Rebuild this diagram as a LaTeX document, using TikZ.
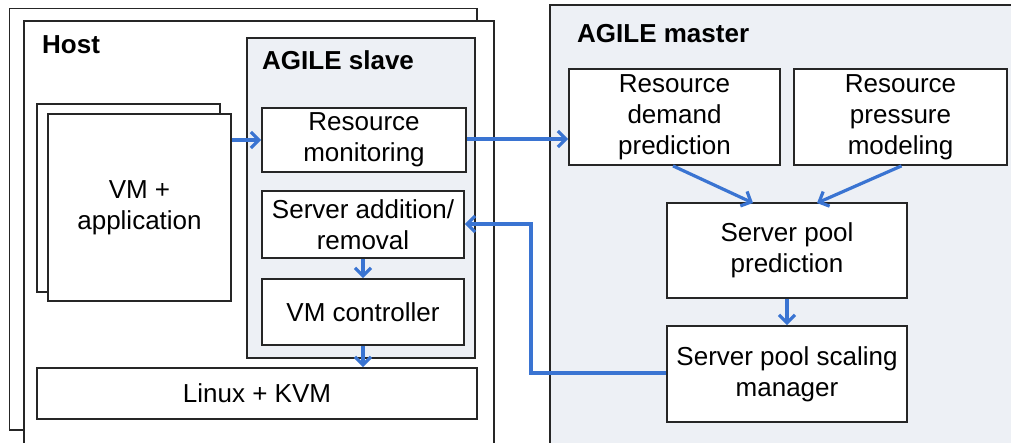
\documentclass[tikz,border=0pt]{standalone}
\usepackage{fontspec}
\setmainfont{Liberation Sans}
\usetikzlibrary{arrows.meta}
\definecolor{flow}{RGB}{58,116,210}
\definecolor{panel}{RGB}{237,240,245}
\tikzset{
  frame/.style={draw=black!85, line width=1.8pt},
  stage/.style={frame, fill=white, align=center, inner sep=0pt,
    font=\fontsize{26}{31}\selectfont},
  heading/.style={anchor=west, inner sep=0pt, font=\fontsize{26}{31}\selectfont\bfseries},
  flowline/.style={draw=flow, line width=3.2pt,
    -{Straight Barb[length=8pt,width=16pt]}},
}
\begin{document}
\begin{tikzpicture}[x=1pt,y=-1pt]
\useasboundingbox (0,0) rectangle (1011,442);
\begin{scope}
\clip (0,0) rectangle (1011,442);
% stacked host frames
\draw[frame, fill=white] (9.5,8.5) rectangle (477,430);
\draw[frame, fill=white] (24,21) rectangle (494,450);
\node[heading] (host) at (42,45) {Host};
% slave panel
\draw[frame, fill=panel] (247,38) rectangle (475,358);
\node[heading] (slave) at (262,60) {AGILE slave};
% master panel
\draw[frame, fill=panel] (550,5) rectangle (1020,450);
\node[heading] (master) at (577,34) {AGILE master};
% stacked VMs
\draw[frame, fill=white] (37,104) rectangle (220,292);
\node[stage, minimum width=183pt, minimum height=187pt] (vm) at (139.5,207.5) {VM +\\application};
% slave stages
\node[stage, minimum width=204pt, minimum height=64pt] (mon) at (364,140) {Resource\\monitoring};
\node[stage, minimum width=202pt, minimum height=67pt] (add) at (363,224.5) {Server addition/\\removal};
\node[stage, minimum width=202pt, minimum height=66pt] (ctl) at (363,312) {VM controller};
\node[stage, minimum width=440pt, minimum height=51pt] (kvm) at (257,393.5) {Linux + KVM};
% master stages
\node[stage, minimum width=211pt, minimum height=96pt] (rdp) at (674.5,117) {Resource\\demand\\prediction};
\node[stage, minimum width=213pt, minimum height=96pt] (rpm) at (900.5,117) {Resource\\pressure\\modeling};
\node[stage, minimum width=240pt, minimum height=95pt] (spp) at (787,250.5) {Server pool\\prediction};
\node[stage, minimum width=240pt, minimum height=96pt] (spm) at (787,374) {Server pool scaling\\manager};
% connectors
\coordinate (bend1) at (531,373);
\coordinate (bend2) at (531,224);
\draw[flowline] (vm.east |- 0,140) -- (mon.west);
\draw[flowline] (mon.east |- 0,139) -- (rdp.west |- 0,139);
\draw[flowline] (rdp.south) ++(-1.5,0) -- (753,203);
\draw[flowline] (rpm.south) ++(1,0) -- (817,203);
\draw[flowline] (spp.south) -- (spm.north);
\draw[flowline] (spm.west |- bend1) -- (bend1) -- (bend2) -- (add.east |- bend2);
\draw[flowline] (add.south) -- (ctl.north);
\draw[flowline] (ctl.south) -- (kvm.north -| ctl.south);
\end{scope}
\end{tikzpicture}
\end{document}
